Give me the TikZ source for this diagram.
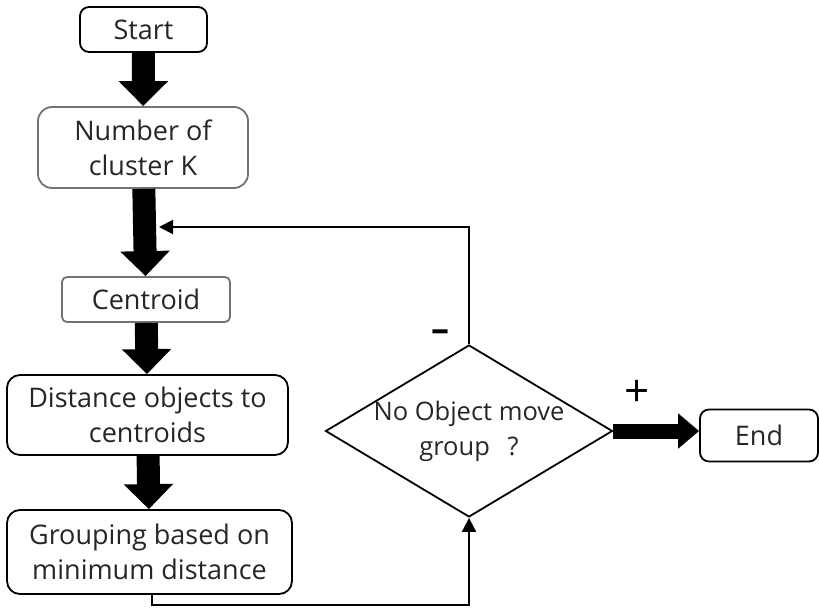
\documentclass[tikz,border=0pt]{standalone}
\usepackage{fontspec}
\setmainfont{Open Sans}
\usetikzlibrary{shapes.geometric,arrows.meta}
\colorlet{boxgray}{black!55}
\begin{document}
\begin{tikzpicture}[x=1pt,y=-1pt]
	\useasboundingbox (0,0) rectangle (819,608);
	\tikzstyle{Box} = [rectangle, draw, line width=1.8pt, rounded corners=9pt, align=center, inner sep=0pt, text=black!85, font=\fontsize{27}{35}\selectfont]
	\tikzstyle{Decision} = [diamond, draw, line width=1.8pt, align=center, inner sep=-12pt, aspect=1.67, minimum width=287pt, minimum height=172pt, text=black!85, font=\fontsize{25.5}{35}\selectfont]
	\tikzstyle{Block} = [line width=23pt, -{Triangle[width=48pt,length=25pt]}]
	\tikzstyle{Line} = [line width=2pt, -{Triangle[width=14pt,length=14pt]}]
	\node (Start) at (143.5,29.5) [Box, minimum width=127pt, minimum height=45pt] {Start};
	\node (K) at (143,147.5) [Box, draw=boxgray, rounded corners=14pt, minimum width=210pt, minimum height=81pt] {Number of\\cluster K};
	\node (Cent) at (146,299.5) [Box, draw=boxgray, rounded corners=5pt, minimum width=168pt, minimum height=45pt] {Centroid};
	\node (Dist) at (147.5,415) [Box, rounded corners=13pt, minimum width=281pt, minimum height=80pt] {Distance objects to\\centroids};
	\node (Group) at (149.5,552) [Box, rounded corners=13pt, minimum width=285pt, minimum height=84pt] {Grouping based on\\minimum distance};
	\node (Move) at (469,431) [Decision] {No Object move\\group\hspace{0.7em}?};
	\node (End) at (759,435.5) [Box, minimum width=118pt, minimum height=52pt] {End};
	\node (Minus) at (440,336) [font=\fontsize{36}{36}\selectfont\bfseries] {--};
	\node (Plus) at (637,393) [font=\fontsize{44}{44}\selectfont] {+};
	\coordinate (Back) at (159,227);
	\draw[Block] (Start) to (K);
	\draw[Block] (K) to (Cent);
	\draw[Block] (Cent) to (Dist);
	\draw[Block] (Dist) to (Group);
	\draw[Line] (Move.north) |- (Back);
	\draw[Line] (Group.south -| 152,0) -- ++(0,10) -| (Move.south);
	\draw[Block, line width=15pt, -{Triangle[width=34pt,length=21pt]}] (Move.east) -- (Move.east -| End.west);
\end{tikzpicture}
\end{document}
